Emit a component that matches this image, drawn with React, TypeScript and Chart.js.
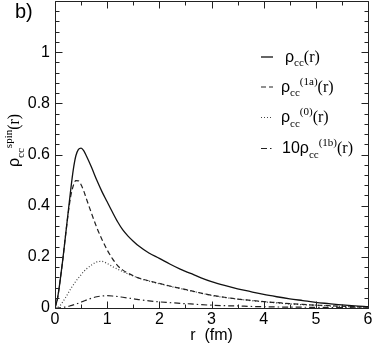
import React, { useEffect, useRef } from 'react';
import { Chart, registerables } from 'chart.js';

Chart.register(...registerables);

// r grid (fm)
const rValues = [0, 0.05, 0.1, 0.15, 0.2, 0.25, 0.3, 0.35, 0.4, 0.45, 0.5, 0.55, 0.6, 0.7, 0.8, 0.9, 1.0, 1.1, 1.2, 1.3, 1.4, 1.5, 1.6, 1.8, 2.0, 2.2, 2.4, 2.6, 2.8, 3.0, 3.25, 3.5, 3.75, 4.0, 4.25, 4.5, 4.75, 5.0, 5.25, 5.5, 5.75, 6.0];

// rho_cc(r)  (solid)
const rhoCC = [0, 0.04, 0.11, 0.19, 0.28, 0.37, 0.46, 0.54, 0.595, 0.62, 0.625, 0.615, 0.595, 0.55, 0.5, 0.455, 0.415, 0.375, 0.337, 0.305, 0.281, 0.261, 0.243, 0.215, 0.194, 0.172, 0.152, 0.135, 0.118, 0.103, 0.088, 0.075, 0.064, 0.053, 0.044, 0.036, 0.029, 0.022, 0.017, 0.012, 0.008, 0.005];

// rho_cc^(1a)(r)  (dashed)
const rhoCC1a = [0, 0.04, 0.11, 0.19, 0.28, 0.365, 0.435, 0.478, 0.498, 0.497, 0.482, 0.458, 0.428, 0.37, 0.315, 0.268, 0.227, 0.193, 0.166, 0.148, 0.136, 0.126, 0.118, 0.106, 0.096, 0.086, 0.077, 0.068, 0.058, 0.05, 0.042, 0.035, 0.03, 0.025, 0.021, 0.017, 0.014, 0.011, 0.009, 0.007, 0.005, 0.004];

// rho_cc^(0)(r)  (dotted)
const rhoCC0 = [0, 0.003, 0.01, 0.024, 0.04, 0.057, 0.075, 0.09, 0.105, 0.118, 0.13, 0.142, 0.152, 0.168, 0.18, 0.182, 0.174, 0.162, 0.152, 0.142, 0.133, 0.125, 0.117, 0.105, 0.095, 0.085, 0.076, 0.067, 0.058, 0.049, 0.041, 0.035, 0.029, 0.024, 0.02, 0.016, 0.013, 0.011, 0.008, 0.006, 0.005, 0.004];

// 10 * rho_cc^(1b)(r)  (dash-dot)
const rhoCC1bTimes10 = [0, 0, 0.001, 0.002, 0.004, 0.006, 0.009, 0.012, 0.015, 0.019, 0.023, 0.027, 0.031, 0.038, 0.044, 0.047, 0.048, 0.047, 0.045, 0.042, 0.039, 0.036, 0.033, 0.028, 0.024, 0.021, 0.018, 0.016, 0.013, 0.011, 0.009, 0.008, 0.006, 0.005, 0.004, 0.0035, 0.003, 0.0025, 0.002, 0.0015, 0.001, 0.001];

const yTickValues = [0, 0.2, 0.4, 0.6, 0.8, 1];
const xTickValues = [0, 1, 2, 3, 4, 5, 6];
const panelLabel = 'b)';
const xTitle = 'r  (fm)';

const SANS = '"Liberation Sans", Arial, sans-serif';
const SERIF = '"Liberation Serif", "Times New Roman", serif';

type Part = { text: string; font: string; dy?: number };

function drawRich(ctx: CanvasRenderingContext2D, x: number, y: number, parts: Part[]) {
  let cx = x;
  for (const p of parts) {
    ctx.font = p.font;
    ctx.fillText(p.text, cx, y + (p.dy || 0));
    cx += ctx.measureText(p.text).width;
  }
  return cx;
}

const big = `16px ${SANS}`;
const bigSerif = `16px ${SERIF}`;
const small = `11px ${SERIF}`;

const legendRows: { parts: Part[]; dash: number[]; x: number }[] = [
  { x: 285, dash: [], parts: [{ text: 'ρ', font: big }, { text: 'cc', font: small, dy: 4.5 }, { text: '(r)', font: bigSerif }] },
  { x: 281, dash: [5, 3], parts: [{ text: 'ρ', font: big }, { text: 'cc', font: small, dy: 4.5 }, { text: '(1a)', font: small, dy: -7 }, { text: '(r)', font: bigSerif }] },
  { x: 281, dash: [1, 2], parts: [{ text: 'ρ', font: big }, { text: 'cc', font: small, dy: 4.5 }, { text: '(0)', font: small, dy: -7 }, { text: '(r)', font: bigSerif }] },
  { x: 282, dash: [6, 3, 1.5, 3], parts: [{ text: '10ρ', font: big }, { text: 'cc', font: small, dy: 4.5 }, { text: '(1b)', font: small, dy: -7 }, { text: '(r)', font: bigSerif }] },
];
const legendBaselines = [61.5, 91.5, 122, 153];

const decorPlugin = {
  id: 'decor',
  afterDraw(chart: any) {
    const { ctx, chartArea } = chart;
    const { left, right, top, bottom } = chartArea;
    const xs = chart.scales.x;
    const ys = chart.scales.y;
    ctx.save();
    ctx.strokeStyle = '#222';
    ctx.lineWidth = 1;
    ctx.setLineDash([]);
    const L = Math.round(left) + 0.5;
    const R = Math.round(right) + 0.5;
    const T = Math.round(top) + 0.5;
    const B = Math.round(bottom) + 0.5;
    ctx.beginPath();
    ctx.rect(L, T, R - L, B - T);
    ctx.stroke();
    ctx.beginPath();
    for (let i = 0; i <= 12; i++) {
      const v = i * 0.5;
      const px = Math.round(xs.getPixelForValue(v)) + 0.5;
      const len = i % 2 === 0 ? 7 : 4;
      ctx.moveTo(px, B);
      ctx.lineTo(px, B - len);
      ctx.moveTo(px, T);
      ctx.lineTo(px, T + len);
    }
    for (let i = 0; i <= 30; i++) {
      const v = i * 0.04;
      const py = Math.round(ys.getPixelForValue(v)) + 0.5;
      const len = i % 5 === 0 ? 7 : 4;
      ctx.moveTo(L, py);
      ctx.lineTo(L + len, py);
      ctx.moveTo(R, py);
      ctx.lineTo(R - len, py);
    }
    ctx.stroke();

    ctx.fillStyle = '#000';
    ctx.textBaseline = 'alphabetic';
    ctx.textAlign = 'left';
    ctx.font = `20px ${SANS}`;
    ctx.fillText(panelLabel, 15, 17.5);

    legendRows.forEach((row, i) => {
      const base = legendBaselines[i];
      const ds = chart.data.datasets[i];
      ctx.strokeStyle = ds.borderColor;
      ctx.lineWidth = ds.borderWidth;
      ctx.setLineDash(row.dash);
      ctx.beginPath();
      ctx.moveTo(261, base - 4.5);
      ctx.lineTo(273, base - 4.5);
      ctx.stroke();
      ctx.setLineDash([]);
      ctx.fillStyle = '#000';
      drawRich(ctx, row.x, base, row.parts);
    });

    ctx.save();
    ctx.translate(19, 167);
    ctx.rotate(-Math.PI / 2);
    ctx.fillStyle = '#000';
    drawRich(ctx, 0, 0, [
      { text: 'ρ', font: big },
      { text: 'cc', font: small, dy: 4.5 },
      { text: 'spin', font: small, dy: -7 },
      { text: '(r)', font: bigSerif },
    ]);
    ctx.restore();
    ctx.restore();
  },
};

export default function App() {
  const canvasRef = useRef<HTMLCanvasElement | null>(null);

  useEffect(() => {
    if (!canvasRef.current) return;
    const mk = (vals: number[]) => rValues.map((r, i) => ({ x: r, y: vals[i] }));
    const base = { pointRadius: 0, fill: false, cubicInterpolationMode: 'monotone' as const };
    const chart = new Chart(canvasRef.current, {
      type: 'line',
      data: {
        datasets: [
          { ...base, label: 'ρcc(r)', data: mk(rhoCC), borderColor: '#111', borderWidth: 1.3, borderDash: [] },
          { ...base, label: 'ρcc(1a)(r)', data: mk(rhoCC1a), borderColor: '#222', borderWidth: 1.2, borderDash: [5, 3] },
          { ...base, label: 'ρcc(0)(r)', data: mk(rhoCC0), borderColor: '#444', borderWidth: 1.2, borderDash: [1, 2] },
          { ...base, label: '10ρcc(1b)(r)', data: mk(rhoCC1bTimes10), borderColor: '#222', borderWidth: 1.2, borderDash: [6, 3, 1.5, 3] },
        ],
      },
      options: {
        responsive: false,
        animation: false,
        devicePixelRatio: 1,
        layout: { padding: { top: 1, right: 6, left: 0, bottom: 0 } },
        plugins: { legend: { display: false }, tooltip: { enabled: false } },
        scales: {
          x: {
            type: 'linear',
            min: 0,
            max: 6,
            grid: { display: false, drawTicks: false },
            border: { display: false },
            afterBuildTicks: (s: any) => { s.ticks = xTickValues.map((v) => ({ value: v })); },
            ticks: {
              color: '#000',
              font: { family: SANS, size: 16 },
              padding: 2,
              maxRotation: 0,
              autoSkip: false,
              callback: (v: any) => String(v),
            },
            title: { display: true, text: xTitle, color: '#000', font: { family: SANS, size: 16 }, padding: { top: 0, bottom: 0 } },
            afterFit: (s: any) => { s.height = 37; s.paddingLeft = 0; s.paddingRight = 0; },
          },
          y: {
            type: 'linear',
            min: 0,
            max: 1.2,
            grid: { display: false, drawTicks: false },
            border: { display: false },
            afterBuildTicks: (s: any) => { s.ticks = yTickValues.map((v) => ({ value: v })); },
            ticks: {
              color: '#000',
              font: { family: SANS, size: 16 },
              padding: 5,
              autoSkip: false,
              callback: (v: any) => String(Number(Number(v).toFixed(1))),
            },
            afterFit: (s: any) => { s.width = 55; s.paddingTop = 0; s.paddingBottom = 0; },
          },
        },
      },
      plugins: [decorPlugin],
    });
    return () => chart.destroy();
  }, []);

  return (
    <div style={{ position: 'fixed', left: 0, top: 0, width: 374, height: 345, background: '#fff' }}>
      <canvas ref={canvasRef} width={374} height={345} style={{ display: 'block' }} />
    </div>
  );
}
